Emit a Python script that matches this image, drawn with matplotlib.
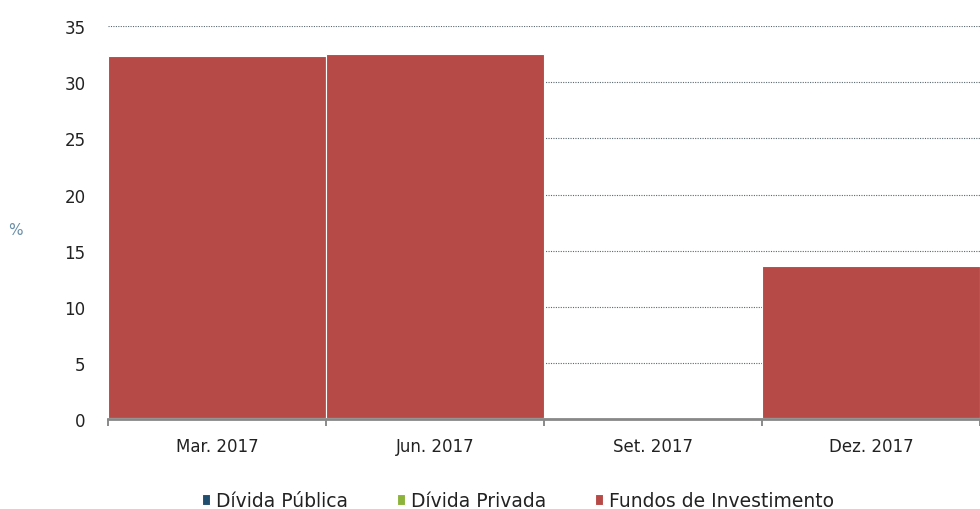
import matplotlib
matplotlib.use("Agg")
import matplotlib.pyplot as plt
import numpy as np

categories = ["Mar. 2017", "Jun. 2017", "Set. 2017", "Dez. 2017"]
divida_publica = [0.1, 0.1, 0.1, 0.1]
divida_privada = [0.0, 0.0, 0.0, 0.0]
fundos_investimento = [32.2, 32.4, 0.1, 13.5]
yticks = [0, 5, 10, 15, 20, 25, 30, 35]

c_pub = "#1F4E6E"
c_priv = "#8DB33A"
c_fund = "#B64A46"

fig = plt.figure(figsize=(9.8, 5.1), dpi=100)
ax = fig.add_axes([0.110, 0.176, 0.890, 0.771])

x = np.arange(len(categories))
b1 = np.array(divida_publica)
b2 = b1 + np.array(divida_privada)
ax.bar(x, divida_publica, width=1.0, color=c_pub, edgecolor="white", linewidth=0.8, zorder=3, label="Dívida Pública")
ax.bar(x, divida_privada, width=1.0, bottom=b1, color=c_priv, edgecolor="white", linewidth=0.8, zorder=3, label="Dívida Privada")
ax.bar(x, fundos_investimento, width=1.0, bottom=b2, color=c_fund, edgecolor="white", linewidth=0.8, zorder=3, label="Fundos de Investimento")

ax.set_xlim(-0.5, 3.45)
ax.set_ylim(0, 35)
ax.set_yticks(yticks)
ax.set_yticklabels([str(v) for v in yticks], fontsize=12, color="#222222")
ax.set_xticks(x)
ax.set_xticklabels(categories, fontsize=12, color="#222222")
ax.set_xticks(np.arange(-0.5, 3.6, 1.0), minor=True)
ax.tick_params(axis="x", which="major", length=0, pad=13)
ax.tick_params(axis="x", which="minor", length=5, width=1.2, color="#777777", direction="out")
ax.tick_params(axis="y", length=0, pad=16)

for s in ["top", "right", "left"]:
    ax.spines[s].set_visible(False)
ax.spines["bottom"].set_color("#888888")
ax.spines["bottom"].set_linewidth(2)
ax.spines["bottom"].set_zorder(4)

ax.yaxis.grid(True, linestyle=(0, (1, 1.2)), color="#5A686E", linewidth=0.8, zorder=0)
ax.set_axisbelow(True)

fig.text(0.016, 0.548, "%", fontsize=11, color="#6A8FA8", va="center", ha="center")

leg = ax.legend(loc="upper center", bbox_to_anchor=(0.47, -0.14), ncol=3, frameon=False,
                fontsize=13.5, handlelength=0.45, handleheight=0.45, handletextpad=0.3,
                columnspacing=2.6)
for t in leg.get_texts():
    t.set_color("#222222")

fig.savefig("out.png", dpi=100)
